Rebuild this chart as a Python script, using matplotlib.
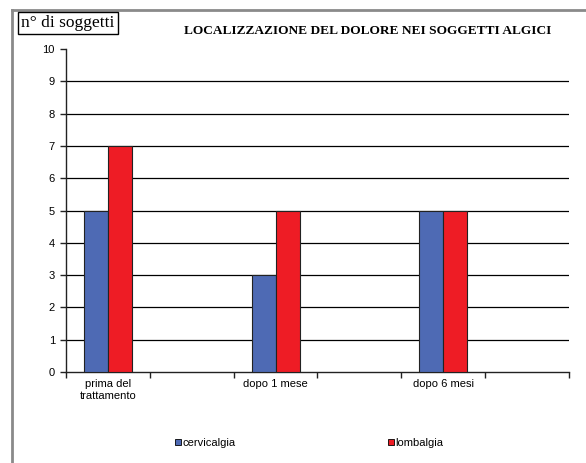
import matplotlib
matplotlib.use("Agg")
import matplotlib.pyplot as plt
from matplotlib.lines import Line2D
import numpy as np

categories = ["prima del\ntrattamento", "dopo 1 mese", "dopo 6 mesi"]
cervicalgia = [5, 3, 5]
lombalgia = [7, 5, 5]
series_names = ["cervicalgia", "lombalgia"]
y_ticks = list(range(0, 11))

blue = "#4e6ab4"
red = "#ee1c25"

fig = plt.figure(figsize=(5.86, 4.63), dpi=100)
ax = fig.add_axes([0.1126, 0.1965, 0.8584, 0.6975])

# six category slots; the data occupy every other slot
slots = np.arange(len(categories)) * 2
w = 0.286
ax.bar(slots - w / 2, cervicalgia, width=w, color=blue, edgecolor="#222222", linewidth=0.8, zorder=3)
ax.bar(slots + w / 2, lombalgia, width=w, color=red, edgecolor="#222222", linewidth=0.8, zorder=3)

ax.set_xlim(-0.5, 5.5)
ax.set_ylim(0, 10)
ax.set_yticks(y_ticks)
for v in y_ticks[1:-1]:
    ax.axhline(v, color="black", linewidth=0.9, zorder=1)

ax.set_xticks(slots)
ax.set_xticklabels(categories, fontsize=8, family="Liberation Sans", linespacing=1.25)
ax.set_xticks(np.arange(-0.5, 6.0, 1.0), minor=True)
ax.tick_params(axis="x", which="major", length=0, pad=5)
ax.tick_params(axis="x", which="minor", length=4, width=1, direction="out", color="#222222")
ax.tick_params(axis="y", length=4, width=1, direction="out", labelsize=8, pad=4, color="#222222")
for lab in ax.get_yticklabels():
    lab.set_family("Liberation Sans")

for s in ["top", "right"]:
    ax.spines[s].set_visible(False)
for s in ["left", "bottom"]:
    ax.spines[s].set_color("#222222")
    ax.spines[s].set_linewidth(1.0)

# outer chart frame (top and left edges)
fig.add_artist(Line2D([12 / 586, 1.0], [1 - 10 / 463, 1 - 10 / 463], color="#8a8a8a", linewidth=2.0, transform=fig.transFigure))
fig.add_artist(Line2D([12 / 586, 12 / 586], [0.0, 1 - 10 / 463], color="#8a8a8a", linewidth=2.0, transform=fig.transFigure))

fig.text(368 / 586, 1 - 31 / 463, "LOCALIZZAZIONE DEL DOLORE NEI SOGGETTI ALGICI",
         ha="center", va="center", fontsize=9.6, family="Liberation Serif", fontweight="bold")

fig.text(68 / 586, 1 - 23 / 463, "n° di soggetti", ha="center", va="center", fontsize=12.5,
         family="Liberation Serif",
         bbox=dict(boxstyle="square,pad=0.2", facecolor="white", edgecolor="black", linewidth=1.0))

handles = [
    Line2D([], [], marker="s", linestyle="none", markersize=5, markerfacecolor=blue, markeredgecolor="black", markeredgewidth=0.6),
    Line2D([], [], marker="s", linestyle="none", markersize=5, markerfacecolor=red, markeredgecolor="black", markeredgewidth=0.6),
]
fig.legend(handles, series_names, loc="center", bbox_to_anchor=(309 / 586, 1 - 443 / 463), ncol=2,
           frameon=False, prop={"family": "Liberation Sans", "size": 8},
           handlelength=0.6, handletextpad=0.1, columnspacing=13.7)

fig.savefig("out.png", dpi=100)
